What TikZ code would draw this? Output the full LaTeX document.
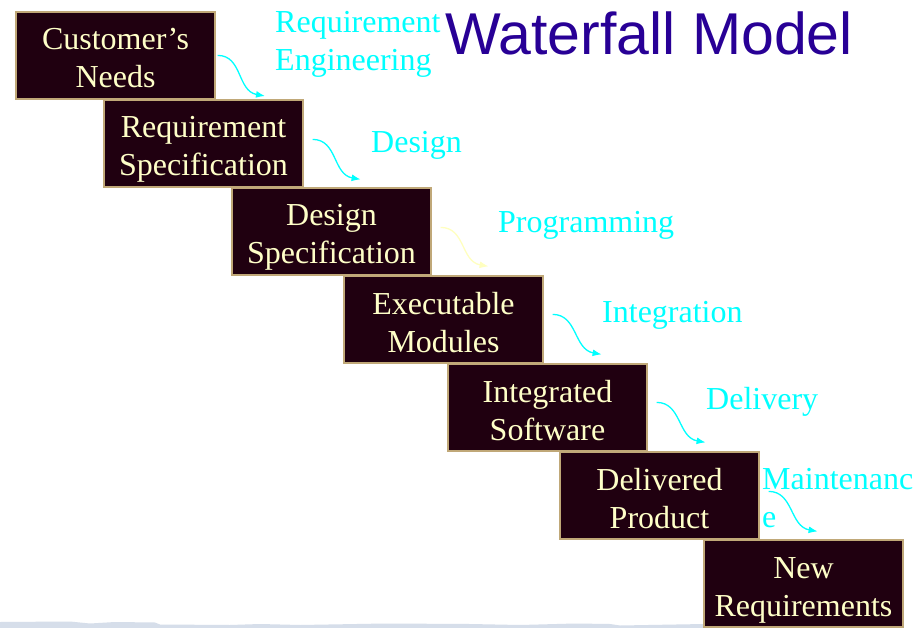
\documentclass[tikz,border=0pt]{standalone}
\usepackage{fontspec}
\setmainfont{Liberation Serif}
\newfontfamily\titlefont{Liberation Sans}
\usetikzlibrary{arrows.meta}
\definecolor{boxfill}{RGB}{32,0,16}
\definecolor{boxline}{RGB}{192,168,120}
\definecolor{boxtext}{RGB}{255,255,200}
\definecolor{labcyan}{RGB}{0,255,255}
\definecolor{arrowyellow}{RGB}{255,255,192}
\definecolor{titleblue}{RGB}{40,0,150}
\definecolor{streak}{RGB}{214,222,234}
\newcommand\stagetop{\rule{0pt}{35pt}}
\newcommand\stagebot{\rule[-8pt]{0pt}{8pt}}
\tikzset{
  stage/.style={draw=boxline, line width=1.2pt, fill=boxfill, text=boxtext,
    minimum width=199pt, minimum height=87pt, inner sep=0pt, align=center,
    font=\fontsize{32}{38}\selectfont},
  phase/.style={text=labcyan, anchor=base west, inner sep=0pt, align=left,
    font=\fontsize{32}{38}\selectfont},
  flow/.style={draw=labcyan, line width=1.3pt, -{Latex[length=9pt,width=7pt]}},
  heading/.style={text=titleblue, font={\titlefont\fontsize{59}{64}\selectfont}, anchor=base west, inner sep=0pt},
}
\begin{document}
\begin{tikzpicture}[x=1pt,y=-1pt]
\useasboundingbox (0,0) rectangle (915,628);
\fill[white] (0,0) rectangle (915,628);
% bottom streak
\fill[streak] (0,628) -- (0,622) -- (70,621.5) -- (90,623.5) -- (115,622) -- (155,622.5) -- (160,624.5) -- (230,625) -- (260,624) -- (300,625) -- (385,623.5) -- (470,624) -- (520,625) -- (575,623.5) -- (610,624) -- (620,625.5) -- (648,625) -- (704,624) -- (704,628) -- cycle;

\node[heading] (title) at (445,55) {Waterfall Model};

\node[stage] (b1) at (115.5,55.5) {\stagetop Customer’s\\Needs\stagebot};
\node[stage] (b2) at (203.5,143.5) {\stagetop Requirement\\Specification\stagebot};
\node[stage] (b3) at (331.5,231.5) {\stagetop Design\\Specification\stagebot};
\node[stage] (b4) at (443.5,319.5) {\stagetop Executable\\Modules\stagebot};
\node[stage] (b5) at (547.5,407.5) {\stagetop Integrated\\Software\stagebot};
\node[stage] (b6) at (659.5,495.5) {\stagetop Delivered\\Product\stagebot};
\node[stage] (b7) at (803.5,583.5) {\stagetop New\\Requirements\stagebot};

\node[phase] (l1) at (275,71) {Requirement\\Engineering};
\node[phase] (l2) at (371,153) {Design};
\node[phase] (l3) at (498,233) {Programming};
\node[phase] (l4) at (602,322) {Integration};
\node[phase] (l5) at (706,409) {Delivery};
\node[phase] (l6) at (762,527) {Maintenanc\\e};

\coordinate (s1) at ([xshift=2pt,yshift=-44pt]b1.north east);
\coordinate (e1) at (265,96);
\coordinate (s2) at ([xshift=9pt,yshift=-40pt]b2.north east);
\coordinate (e2) at ([xshift=57pt,yshift=-80pt]b2.north east);
\coordinate (s3) at ([xshift=9pt,yshift=-40pt]b3.north east);
\coordinate (e3) at ([xshift=57pt,yshift=-79pt]b3.north east);
\coordinate (s4) at ([xshift=9pt,yshift=-39pt]b4.north east);
\coordinate (e4) at ([xshift=58pt,yshift=-79pt]b4.north east);
\coordinate (s5) at ([xshift=9pt,yshift=-39pt]b5.north east);
\coordinate (e5) at ([xshift=58pt,yshift=-79pt]b5.north east);
\coordinate (s6) at ([xshift=9pt,yshift=-40pt]b6.north east);
\coordinate (e6) at ([xshift=58pt,yshift=-80pt]b6.north east);

\draw[flow] (s1) .. controls +(25,0) and +(-28,-5) .. (e1);
\draw[flow] (s2) .. controls +(25,0) and +(-28,-5) .. (e2);
\draw[flow, draw=arrowyellow] (s3) .. controls +(25,0) and +(-28,-5) .. (e3);
\draw[flow] (s4) .. controls +(25,0) and +(-28,-5) .. (e4);
\draw[flow] (s5) .. controls +(25,0) and +(-28,-5) .. (e5);
\draw[flow] (s6) .. controls +(25,0) and +(-28,-5) .. (e6);
\end{tikzpicture}
\end{document}
